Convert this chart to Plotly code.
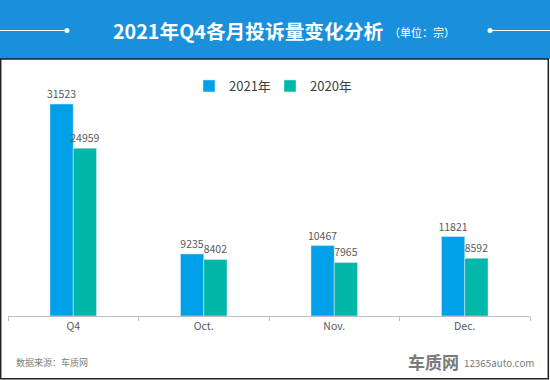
import plotly.graph_objects as go

categories = ["Q4", "Oct.", "Nov.", "Dec."]
series_2021 = [31523, 9235, 10467, 11821]
series_2020 = [24959, 8402, 7965, 8592]
series_names = ["2021年", "2020年"]

W, H = 550, 380
ML, MR, MT, MB = 8, 20, 95, 64
PW = W - ML - MR
PH = H - MT - MB

def px(x):
    return (x - ML) / PW

def py(y):
    return (H - MB - y) / PH

FONT = "Noto Sans CJK SC, Microsoft YaHei, sans-serif"
C21 = "#00a0e9"
C20 = "#00b7a8"

fig = go.Figure()
for name, vals, col, lg in ((series_names[0], series_2021, C21, "legend"),
                            (series_names[1], series_2020, C20, "legend2")):
    fig.add_trace(go.Bar(
        x=categories, y=vals, name=name, marker_color=col, legend=lg,
        text=[str(v) for v in vals], textposition="outside", constraintext="none",
        textfont=dict(size=10.5, color="#595959", family=FONT), cliponaxis=False,
    ))

ymax = PH / (212 / 31523)

leg_common = dict(orientation="h", yanchor="middle", y=py(86),
                  font=dict(size=13, color="#404040", family=FONT),
                  itemwidth=30, bgcolor="rgba(0,0,0,0)", xanchor="left")

fig.update_layout(
    width=W, height=H,
    margin=dict(l=ML, r=MR, t=MT, b=MB),
    paper_bgcolor="white", plot_bgcolor="white",
    barmode="group", bargap=0.643, bargroupgap=0,
    font=dict(family=FONT, color="#404040"),
    showlegend=True,
    legend=dict(x=px(189), **leg_common),
    legend2=dict(x=px(270), **leg_common),
    xaxis=dict(type="category", range=[-0.5, 3.5], showline=True, linecolor="#bfbfbf",
               linewidth=1, ticks="outside", tickson="boundaries", ticklen=4,
               tickcolor="#bfbfbf", showgrid=False, zeroline=False,
               tickfont=dict(size=10.5, color="#595959", family=FONT)),
    yaxis=dict(range=[0, ymax], visible=False, showgrid=False, zeroline=False),
)

# Banner
fig.add_shape(type="rect", xref="paper", yref="paper", x0=px(0), x1=px(550), y0=py(59), y1=py(0),
              fillcolor="#1a8fdc", line=dict(width=0), layer="below")
# Border
fig.add_shape(type="rect", xref="paper", yref="paper", x0=px(0.7), x1=px(548.3), y0=py(378.8), y1=py(59),
              fillcolor="rgba(0,0,0,0)", line=dict(color="#222222", width=1.5))
# Decorative lines
fig.add_shape(type="line", xref="paper", yref="paper", x0=px(0), x1=px(67), y0=py(30.5), y1=py(30.5),
              line=dict(color="white", width=1))
fig.add_shape(type="line", xref="paper", yref="paper", x0=px(490), x1=px(550), y0=py(30.5), y1=py(30.5),
              line=dict(color="white", width=1))
for cx in (67, 490):
    fig.add_shape(type="circle", xref="paper", yref="paper",
                  x0=px(cx - 2.5), x1=px(cx + 2.5), y0=py(33), y1=py(28),
                  fillcolor="white", line=dict(width=0))

# Title
fig.add_annotation(xref="paper", yref="paper", x=px(111), y=py(30.5), xanchor="left", yanchor="middle",
                   text="<b>2021年Q4各月投诉量变化分析</b>", showarrow=False,
                   font=dict(size=19.7, color="white", family=FONT))
fig.add_annotation(xref="paper", yref="paper", x=px(387), y=py(32), xanchor="left", yanchor="middle",
                   text="（单位：宗）", showarrow=False,
                   font=dict(size=11, color="white", family=FONT))

# Footer
fig.add_annotation(xref="paper", yref="paper", x=px(14), y=py(362), xanchor="left", yanchor="middle",
                   text="数据来源：车质网", showarrow=False,
                   font=dict(size=9, color="#808080", family=FONT))
fig.add_annotation(xref="paper", yref="paper", x=px(461), y=py(361), xanchor="right", yanchor="middle",
                   text="<b>车质网</b>", showarrow=False,
                   font=dict(size=17, color="#7a7a7a", family=FONT))
fig.add_annotation(xref="paper", yref="paper", x=px(462), y=py(363), xanchor="left", yanchor="middle",
                   text="12365auto.com", showarrow=False,
                   font=dict(size=9.8, color="#7a7a7a", family=FONT))

fig.write_html("out.html", config={"displayModeBar": False},
               post_script="document.body.style.margin='0';document.body.style.padding='0';")
